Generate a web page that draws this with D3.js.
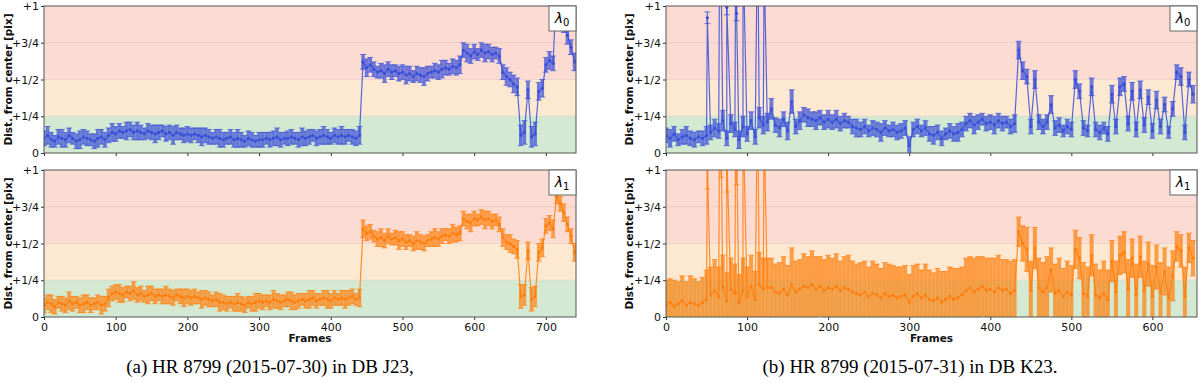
<!DOCTYPE html>
<html>
<head>
<meta charset="utf-8">
<script src="https://cdn.jsdelivr.net/npm/d3@7"></script>
<style>
body { margin: 0; background: #fff; }
svg text { font-family: "DejaVu Sans", sans-serif; }
</style>
</head>
<body>
<svg id="chart" width="1200" height="383"></svg>
<script>
var framesA = d3.range(0, 745, 5);
var distA0 = [0.10,0.12,0.09,0.08,0.11,0.10,0.09,0.12,0.10,0.08,0.09,0.11,0.10,0.09,0.08,0.10,0.11,0.09,
  0.12,0.14,0.13,0.15,0.14,0.15,0.16,0.14,0.15,0.14,0.13,0.15,0.14,0.13,0.14,0.15,0.13,0.14,0.12,0.14,0.13,0.12,0.13,
  0.12,0.13,0.12,0.11,0.12,0.11,0.10,0.11,0.10,0.09,0.10,0.11,0.09,0.10,0.09,0.08,0.10,0.09,0.08,0.09,
  0.09,0.10,0.09,0.10,0.11,0.09,0.10,0.10,0.11,0.10,0.09,0.11,0.10,0.11,0.12,0.10,0.11,0.12,0.11,0.10,0.12,0.11,0.12,0.11,0.12,0.11,0.10,0.12,
  0.62,0.58,0.60,0.57,0.55,0.56,0.54,0.57,0.55,0.56,0.54,0.55,0.53,0.54,0.52,0.54,0.53,0.52,0.54,0.55,0.56,0.55,0.57,0.58,0.57,0.59,0.58,0.60,
  0.70,0.68,0.66,0.69,0.67,0.70,0.68,0.69,0.67,0.68,0.66,
  0.55,0.52,0.50,0.47,
  0.45,0.12,0.14,0.43,0.11,0.13,0.42,0.44,
  0.60,0.63,0.61,
  1.15,1.08,0.88,0.80,0.72,0.62];
var errA0 = [.05,.06,.05,.04,.05,.06,.05,.05,.04,.05,.06,.05,.05,.04,.05,.06,.05,.05,
  .05,.06,.05,.05,.04,.06,.05,.05,.06,.05,.04,.05,.05,.06,.05,.04,.05,.05,.06,.05,.04,.05,.05,
  .05,.04,.05,.06,.05,.05,.04,.05,.06,.05,.04,.05,.05,.06,.05,.04,.05,.05,.04,.05,
  .05,.04,.05,.05,.06,.05,.04,.05,.05,.04,.05,.06,.05,.05,.04,.05,.05,.06,.05,.04,.05,.05,.06,.05,.04,.05,.05,.06,
  .05,.06,.05,.05,.04,.05,.06,.05,.05,.04,.05,.05,.06,.05,.04,.05,.05,.06,.05,.04,.05,.05,.06,.05,.04,.05,.05,.06,
  .05,.06,.05,.05,.04,.05,.06,.05,.05,.04,.05,
  .05,.06,.05,.06,
  .06,.07,.08,.06,.07,.08,.06,.06,
  .05,.06,.05,
  .06,.06,.06,.06,.05,.06];
var distA1 = [0.08,0.10,0.09,0.07,0.10,0.09,0.08,0.11,0.09,0.10,0.08,0.09,0.10,0.08,0.09,0.10,0.08,0.09,
  0.13,0.16,0.17,0.16,0.15,0.17,0.16,0.18,0.15,0.16,0.14,0.15,0.16,0.14,0.15,0.14,0.15,0.14,0.13,0.15,0.14,0.13,0.14,
  0.13,0.14,0.13,0.12,0.13,0.12,0.11,0.12,0.10,0.10,0.09,0.10,0.09,0.10,0.09,0.08,0.10,0.09,0.10,0.11,
  0.10,0.11,0.10,0.12,0.11,0.10,0.11,0.12,0.11,0.10,0.11,0.12,0.11,0.12,0.13,0.11,0.12,0.13,0.12,0.11,0.13,0.12,0.13,0.12,0.13,0.14,0.12,0.13,
  0.60,0.57,0.58,0.55,0.53,0.54,0.52,0.55,0.53,0.54,0.52,0.53,0.51,0.52,0.50,0.52,0.51,0.50,0.52,0.53,0.54,0.53,0.55,0.56,0.55,0.57,0.56,0.57,
  0.67,0.65,0.64,0.67,0.66,0.68,0.66,0.67,0.65,0.66,0.63,
  0.54,0.51,0.50,0.48,
  0.46,0.14,0.15,0.45,0.12,0.14,0.44,0.47,
  0.62,0.64,0.60,
  0.82,0.77,0.71,0.63,0.55,0.44];
var errA1 = [.05,.05,.06,.05,.04,.05,.05,.06,.05,.04,.05,.06,.05,.05,.04,.05,.06,.05,
  .06,.05,.05,.06,.05,.04,.05,.06,.05,.05,.04,.06,.05,.05,.04,.05,.06,.05,.05,.04,.05,.06,.05,
  .05,.05,.04,.06,.05,.05,.04,.05,.06,.05,.05,.04,.05,.06,.05,.05,.04,.05,.06,.05,
  .05,.04,.05,.06,.05,.05,.04,.05,.06,.05,.05,.04,.05,.06,.05,.05,.04,.05,.06,.05,.05,.04,.05,.06,.05,.05,.04,.06,
  .06,.05,.05,.04,.05,.06,.05,.05,.04,.05,.06,.05,.05,.04,.05,.06,.05,.05,.04,.05,.06,.05,.05,.04,.05,.06,.05,.05,
  .05,.05,.06,.05,.04,.05,.06,.05,.05,.04,.05,
  .06,.05,.06,.05,
  .06,.08,.07,.06,.08,.07,.06,.06,
  .05,.05,.06,
  .05,.05,.06,.05,.05,.06];

var framesB = d3.range(0, 655, 5);
var distB0 = [0.12,0.10,0.13,0.09,0.11,0.12,0.10,0.09,0.11,0.10,
  0.12,0.14,0.17,0.15,0.22,0.10,0.20,0.16,0.09,0.18,0.13,0.22,0.11,0.24,0.19,0.21,
  0.30,0.19,0.17,0.23,0.15,0.35,0.18,0.22,0.26,0.24,0.23,0.22,0.24,0.21,0.23,
  0.21,0.23,0.20,0.22,0.21,0.18,0.17,0.16,0.18,0.15,0.17,0.16,0.14,0.17,0.15,0.16,0.14,0.15,
  0.17,0.05,0.16,0.18,0.15,0.17,0.13,0.12,0.14,0.10,0.13,0.15,0.13,0.14,0.16,
  0.20,0.22,0.19,0.21,0.23,0.20,0.21,0.19,0.22,0.20,0.21,0.18,0.20,
  0.70,0.56,0.52,0.18,0.50,0.21,
  0.18,0.21,0.33,0.17,0.19,0.15,0.18,0.16,0.50,0.42,0.17,0.15,0.45,0.16,0.14,0.17,0.13,0.40,0.18,0.45,0.47,0.20,0.42,0.16,0.43,0.19,0.38,0.15,0.36,0.18,0.33,0.14,0.30,
  0.55,0.52,0.14,0.50,0.40];
var errB0 = [.05,.06,.05,.04,.05,.06,.05,.05,.04,.05,
  .06,.05,.06,.05,.07,.05,.06,.05,.06,.07,.05,.06,.05,.07,.06,.06,
  .07,.05,.06,.05,.06,.08,.05,.06,.05,.06,.05,.06,.05,.05,.06,
  .05,.06,.05,.05,.04,.05,.06,.05,.05,.04,.05,.05,.06,.05,.04,.05,.05,.05,
  .05,.06,.05,.05,.04,.05,.05,.06,.05,.05,.04,.05,.05,.06,.05,
  .05,.05,.06,.05,.04,.05,.05,.06,.05,.05,.04,.05,.06,
  .06,.06,.05,.05,.06,.05,
  .05,.05,.06,.05,.05,.04,.05,.05,.06,.05,.05,.04,.06,.05,.05,.04,.05,.06,.05,.06,.05,.05,.06,.05,.06,.05,.05,.05,.06,.05,.05,.04,.05,
  .05,.06,.05,.05,.06];
var distB1 = [0.08,0.10,0.07,0.09,0.11,0.08,0.10,0.09,0.08,0.10,
  0.12,0.15,0.18,0.14,0.20,0.11,0.19,0.16,0.10,0.18,0.14,0.21,0.12,0.22,0.19,0.20,
  0.20,0.17,0.16,0.19,0.15,0.22,0.17,0.19,0.21,0.20,0.22,0.19,0.21,0.18,0.20,
  0.19,0.21,0.18,0.20,0.19,0.17,0.16,0.15,0.17,0.14,0.16,0.15,0.13,0.16,0.14,0.15,0.13,0.14,
  0.15,0.10,0.14,0.16,0.13,0.15,0.12,0.11,0.13,0.10,0.12,0.14,0.12,0.13,0.15,
  0.18,0.20,0.17,0.19,0.21,0.18,0.19,0.17,0.20,0.18,0.19,0.16,0.18,
  0.58,0.50,0.46,0.18,0.47,0.20,
  0.17,0.20,0.32,0.16,0.18,0.14,0.17,0.15,0.46,0.40,0.16,0.14,0.42,0.15,0.13,0.16,0.12,0.38,0.17,0.42,0.44,0.19,0.40,0.15,0.41,0.18,0.36,0.14,0.34,0.17,0.31,0.13,0.28,
  0.48,0.45,0.14,0.47,0.40];
var errB1 = [.17,.16,.18,.15,.17,.16,.18,.17,.16,.17,
  .20,.19,.21,.20,.22,.19,.21,.20,.19,.22,.20,.21,.19,.22,.21,.20,
  .20,.19,.21,.22,.20,.25,.21,.20,.22,.21,.23,.22,.20,.21,.22,
  .21,.22,.20,.21,.23,.21,.20,.22,.21,.20,.22,.21,.20,.21,.22,.20,.21,.20,
  .20,.19,.21,.20,.19,.21,.20,.19,.20,.21,.19,.20,.21,.20,.19,
  .22,.21,.23,.22,.20,.22,.21,.23,.22,.21,.20,.22,.21,
  .10,.12,.15,.20,.14,.20,
  .20,.21,.15,.20,.22,.19,.21,.20,.13,.14,.21,.20,.14,.21,.19,.22,.20,.14,.21,.13,.14,.20,.13,.21,.14,.20,.15,.21,.15,.20,.16,.21,.17,
  .10,.11,.20,.10,.12];

// outlier frames of the 2015-07-31 run
var spikeFramesB = [51, 66, 68, 75, 86, 87, 95, 113, 121];
var spikeB0 = [0.92, 1.30, 1.20, 0.99, 1.50, 0.95, 1.40, 1.60, 1.30];
var spikeErrB0 = [.04, .10, .10, .05, .10, .05, .10, .10, .10];
var spikeB1 = [1.05, 1.30, 1.20, 1.10, 1.50, 1.20, 1.40, 1.60, 1.30];
var spikeErrB1 = [.18, .20, .25, .25, .20, .30, .20, .30, .25];

var yTickValues = [0, 0.25, 0.5, 0.75, 1];
var yTickLabels = ["0", "+1/4", "+1/2", "+3/4", "+1"];
var bandEdges = [0, 0.25, 0.5, 1];
var xTicksA = [0, 100, 200, 300, 400, 500, 600, 700];
var xTicksB = [0, 100, 200, 300, 400, 500, 600];

var bandColors = ["#d4e9d1", "#fde8d2", "#fcdcd2"];
var blue = "#3a4fd8", orange = "#ff7f0e";

var svg = d3.select("#chart");
var panelTops = [6, 170], panelH = 147;

function rows(frames, vals, errs, sf, sv, se) {
    var out = frames.map(function (f, i) { return { f: f, v: vals[i], e: errs[i], wide: true }; });
    if (sf) sf.forEach(function (f, i) { out.push({ f: f, v: sv[i], e: se[i], wide: false }); });
    return out.sort(function (a, b) { return a.f - b.f; });
}

function drawPanel(fig, row, data, color, sub) {
    var top = panelTops[row];
    var x = d3.scaleLinear().domain([0, fig.maxFrame]).range([fig.x0, fig.x1]);
    var y = d3.scaleLinear().domain([0, 1]).range([top + panelH, top]);
    var w = fig.x1 - fig.x0;
    var id = "clip" + fig.name + row;
    // only every 5th frame is kept, so each bar covers its 5 frames
    var barW = x(5) - x(0);

    svg.append("clipPath").attr("id", id).append("rect")
        .attr("x", fig.x0).attr("y", top).attr("width", w).attr("height", panelH);

    var g = svg.append("g");
    g.selectAll(".band").data(d3.pairs(bandEdges)).enter().append("rect")
        .attr("x", fig.x0).attr("width", w)
        .attr("y", d => y(d[1])).attr("height", d => y(d[0]) - y(d[1]))
        .attr("fill", (d, i) => bandColors[i]);
    g.selectAll(".grid").data(yTickValues.slice(1, -1)).enter().append("line")
        .attr("x1", fig.x0).attr("x2", fig.x1)
        .attr("y1", d => y(d)).attr("y2", d => y(d))
        .attr("stroke", "#000").attr("stroke-opacity", 0.07);

    var plot = g.append("g").attr("clip-path", "url(#" + id + ")");
    var eb = plot.append("g").attr("stroke", color).attr("stroke-opacity", 0.72);
    eb.selectAll(".bar").data(data).enter().append("line")
        .attr("stroke-width", d => d.wide ? barW : 1.5)
        .attr("x1", d => x(d.f)).attr("x2", d => x(d.f))
        .attr("y1", d => y(d.v - d.e)).attr("y2", d => y(d.v + d.e));
    [-1, 1].forEach(function (s) {
        eb.selectAll(".cap" + s).data(data).enter().append("line")
            .attr("stroke-width", 1)
            .attr("x1", d => x(d.f) - 3).attr("x2", d => x(d.f) + 3)
            .attr("y1", d => y(d.v + s * d.e)).attr("y2", d => y(d.v + s * d.e));
    });
    plot.append("path").datum(data)
        .attr("d", d3.line().x(d => x(d.f)).y(d => y(d.v)))
        .attr("fill", "none").attr("stroke", color).attr("stroke-width", 1.2).attr("stroke-opacity", 0.85);
    plot.selectAll("circle").data(data).enter().append("circle")
        .attr("cx", d => x(d.f)).attr("cy", d => y(d.v)).attr("r", 1.6)
        .attr("fill", color);

    // axes
    var ya = g.append("g").attr("transform", "translate(" + fig.x0 + ",0)")
        .call(d3.axisLeft(y).tickValues(yTickValues).tickFormat((d, i) => yTickLabels[i]).tickSize(3).tickPadding(2));
    var xa = g.append("g").attr("transform", "translate(0," + (top + panelH) + ")")
        .call(d3.axisBottom(x).tickValues(fig.ticks).tickSize(3).tickPadding(3)
            .tickFormat(row == 1 ? d3.format("d") : ""));
    [ya, xa].forEach(function (a) {
        a.attr("font-family", "DejaVu Sans").attr("font-size", 11);
        a.select(".domain").remove();
        a.selectAll("line").attr("stroke", "#333");
        a.selectAll("text").attr("fill", "#111");
    });

    g.append("rect").attr("x", fig.x0).attr("y", top).attr("width", w).attr("height", panelH)
        .attr("fill", "none").attr("stroke", "#555").attr("stroke-width", 1);

    // legend box
    g.append("rect").attr("x", fig.x1 - 27).attr("y", top).attr("width", 27).attr("height", 25)
        .attr("fill", "#fff").attr("stroke", "#666").attr("stroke-width", 1);
    var lt = g.append("text").attr("x", fig.x1 - 14).attr("y", top + 17)
        .attr("text-anchor", "middle").attr("fill", "#000");
    lt.append("tspan").attr("font-size", 14).attr("font-style", "italic").text("λ");
    lt.append("tspan").attr("font-size", 10).attr("dy", 3).text(sub);

    g.append("text")
        .attr("transform", "translate(" + fig.labelX + "," + (top + panelH / 2) + ") rotate(-90)")
        .attr("text-anchor", "middle").attr("dy", "0.35em")
        .attr("font-size", 10.5).attr("font-weight", "bold").attr("fill", "#111")
        .text("Dist. from center [pix]");
}

var figA = { name: "A", x0: 44, x1: 576, maxFrame: 742, ticks: xTicksA, labelX: 8, captionX: 270,
    caption: "(a) HR 8799 (2015-07-30) in DB J23," };
var figB = { name: "B", x0: 666, x1: 1197, maxFrame: 655, ticks: xTicksB, labelX: 629, captionX: 910,
    caption: "(b) HR 8799 (2015-07-31) in DB K23." };

drawPanel(figA, 0, rows(framesA, distA0, errA0), blue, "0");
drawPanel(figA, 1, rows(framesA, distA1, errA1), orange, "1");
drawPanel(figB, 0, rows(framesB, distB0, errB0, spikeFramesB, spikeB0, spikeErrB0), blue, "0");
drawPanel(figB, 1, rows(framesB, distB1, errB1, spikeFramesB, spikeB1, spikeErrB1), orange, "1");

[figA, figB].forEach(function (fig) {
    svg.append("text").attr("x", (fig.x0 + fig.x1) / 2).attr("y", 342)
        .attr("text-anchor", "middle").attr("font-size", 10.5).attr("font-weight", "bold")
        .attr("fill", "#111").text("Frames");
    svg.append("text").attr("x", fig.captionX).attr("y", 373)
        .attr("text-anchor", "middle").attr("font-size", 19)
        .style("font-family", "'Liberation Serif', 'Times New Roman', serif")
        .attr("fill", "#000").text(fig.caption);
});
</script>
</body>
</html>
